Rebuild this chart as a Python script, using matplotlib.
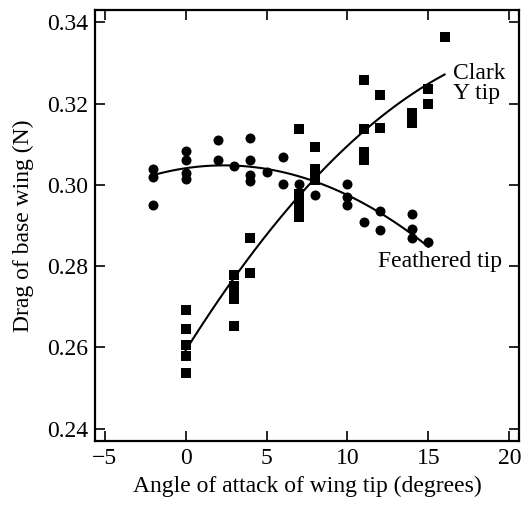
import numpy as np
import matplotlib
matplotlib.use("Agg")
import matplotlib.pyplot as plt

plt.rcParams['font.family'] = ['Liberation Serif', 'DejaVu Serif']

# Feathered tip (circles)
feath_x = [-2, -2, -2, 0, 0, 0, 0, 2, 2, 3, 4, 4, 4, 4, 5, 6, 6, 7, 8,
           10, 10, 10, 11, 12, 12, 14, 14, 14, 15]
feath_y = [0.3040, 0.3020, 0.2950, 0.3083, 0.3060, 0.3030, 0.3015, 0.3110, 0.3060,
           0.3046, 0.3115, 0.3060, 0.3025, 0.3010, 0.3032, 0.3068, 0.3003, 0.3003,
           0.2976, 0.3003, 0.2970, 0.2950, 0.2908, 0.2935, 0.2890, 0.2928, 0.2892,
           0.2868, 0.2860]

# Clark Y tip (squares)
clark_x = [0, 0, 0, 0, 0, 3, 3, 3, 3, 3, 4, 4, 7, 7, 7, 7, 7, 8, 8, 8, 8,
           11, 11, 11, 11, 12, 12, 14, 14, 15, 15, 16]
clark_y = [0.2693, 0.2645, 0.2607, 0.2580, 0.2538, 0.2777, 0.2750, 0.2733, 0.2718,
           0.2652, 0.2870, 0.2782, 0.3137, 0.2978, 0.2958, 0.2938, 0.2920, 0.3092,
           0.3040, 0.3027, 0.3012, 0.3257, 0.3137, 0.3080, 0.3062, 0.3222, 0.3140,
           0.3177, 0.3152, 0.3235, 0.3198, 0.3365]

fig = plt.figure(figsize=(5.28, 5.05), dpi=100)
ax = fig.add_axes([0.180, 0.127, 0.803, 0.853])

# quadratic fits through each data set
pf = np.polyfit(feath_x, feath_y, 2)
xf = np.linspace(-2, 15, 100)
ax.plot(xf, np.polyval(pf, xf), color='black', lw=1.5)

pc = np.polyfit(clark_x, clark_y, 2)
xc = np.linspace(0, 16, 100)
ax.plot(xc, np.polyval(pc, xc), color='black', lw=1.5)

ax.plot(feath_x, feath_y, 'o', color='black', markersize=7.2, markeredgewidth=0)
ax.plot(clark_x, clark_y, 's', color='black', markersize=6.6, markeredgewidth=0)

ax.text(16.5, 0.3250, 'Clark\nY tip', fontsize=17, ha='left', va='center', linespacing=0.95)
ax.text(11.9, 0.2811, 'Feathered tip', fontsize=17, ha='left', va='center')

ax.set_xlim(-5.6, 20.6)
ax.set_ylim(0.237, 0.343)
ax.set_xticks([-5, 0, 5, 10, 15, 20])
ax.set_xticklabels(['\u22125', '0', '5', '10', '15', '20'])
ax.set_yticks([0.24, 0.26, 0.28, 0.30, 0.32, 0.34])
ax.set_yticklabels(['0.24', '0.26', '0.28', '0.30', '0.32', '0.34'])
ax.tick_params(direction='in', length=7, width=1.2, top=True, right=True,
               labelsize=17, pad=5)
for s in ax.spines.values():
    s.set_linewidth(1.6)

ax.set_xlabel('Angle of attack of wing tip (degrees)', fontsize=17, labelpad=5)
ax.set_ylabel('Drag of base wing (N)', fontsize=17, labelpad=9)

fig.savefig('out.png', dpi=100)
